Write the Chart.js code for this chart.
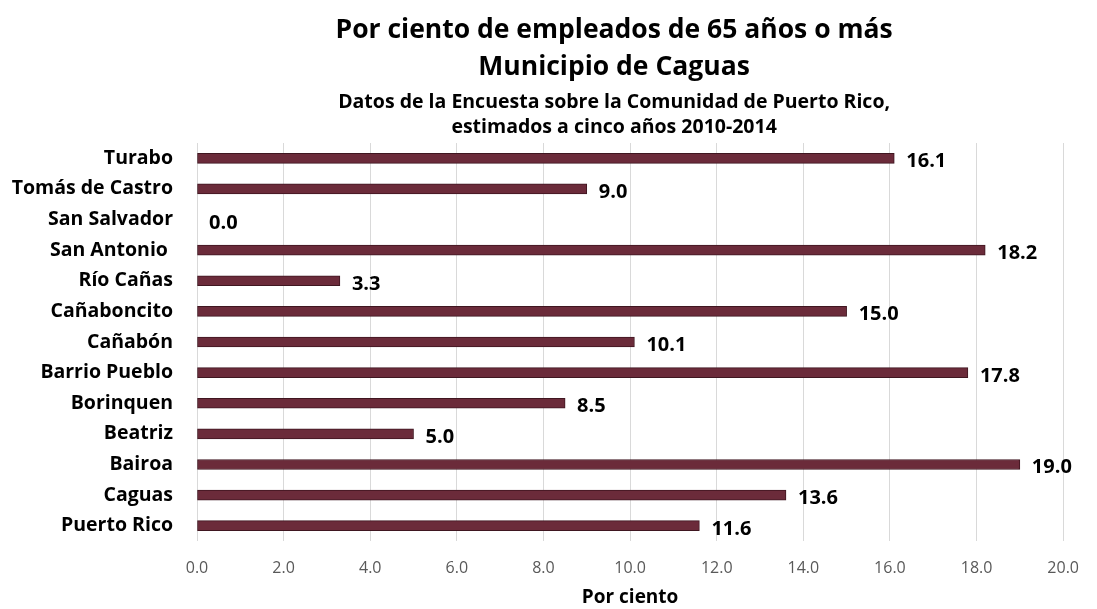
<!DOCTYPE html>
<html>
<head>
<meta charset="utf-8">
<script src="https://cdn.jsdelivr.net/npm/chart.js@4.4.1/dist/chart.umd.min.js"></script>
<style>
  html, body { margin: 0; padding: 0; background: #fff; }
  #wrap { width: 1097px; height: 609px; }
</style>
</head>
<body>
<div id="wrap"><canvas id="chart" width="1097" height="609"></canvas></div>
<script>
// data
const barrios = ['Turabo', 'Tomás de Castro', 'San Salvador', 'San Antonio ', 'Río Cañas', 'Cañaboncito',
    'Cañabón', 'Barrio Pueblo', 'Borinquen', 'Beatriz', 'Bairoa', 'Caguas', 'Puerto Rico'];
const porCiento = [16.1, 9.0, 0.0, 18.2, 3.3, 15.0, 10.1, 17.8, 8.5, 5.0, 19.0, 13.6, 11.6];
const tituloLineas = ['Por ciento de empleados de 65 años o más', 'Municipio de Caguas'];
const subtituloLineas = ['Datos de la Encuesta sobre la Comunidad de Puerto Rico,', 'estimados a cinco años 2010-2014'];

const FONT = '"Open Sans", sans-serif';

// titles, a little left of the plot centre as in the original
const titlePlugin = {
    id: 'titulos',
    afterDraw(chart) {
        const ctx = chart.ctx;
        const cx = (chart.chartArea.left + chart.chartArea.right) / 2 - 16;
        ctx.save();
        ctx.fillStyle = '#000';
        ctx.textAlign = 'center';
        ctx.textBaseline = 'alphabetic';
        ctx.font = 'bold 26.5px ' + FONT;
        ctx.fillText(tituloLineas[0], cx, 38);
        ctx.fillText(tituloLineas[1], cx, 75);
        ctx.font = 'bold 19.5px ' + FONT;
        ctx.fillText(subtituloLineas[0], cx, 108);
        ctx.fillText(subtituloLineas[1], cx, 133);
        ctx.restore();
    }
};

// value labels right of each bar
const labelPlugin = {
    id: 'etiquetas',
    afterDatasetsDraw(chart) {
        const ctx = chart.ctx;
        const meta = chart.getDatasetMeta(0);
        ctx.save();
        ctx.fillStyle = '#000';
        ctx.font = 'bold 20px ' + FONT;
        ctx.textAlign = 'left';
        ctx.textBaseline = 'alphabetic';
        meta.data.forEach((bar, i) => {
            ctx.fillText(porCiento[i].toFixed(1), bar.x + 12, bar.y + 9);
        });
        ctx.restore();
    }
};

new Chart(document.getElementById('chart').getContext('2d'), {
    type: 'bar',
    data: {
        labels: barrios,
        datasets: [{
            data: porCiento,
            backgroundColor: '#6b2b3a',
            borderColor: '#3f1620',
            borderWidth: 1,
            borderSkipped: false,
            barThickness: 10
        }]
    },
    options: {
        indexAxis: 'y',
        responsive: false,
        animation: false,
        layout: { padding: { top: 143, right: 31, bottom: 0, left: 0 } },
        plugins: {
            legend: { display: false },
            tooltip: { enabled: false }
        },
        scales: {
            x: {
                // fixed axis height so the plot bottom sits where the original has it
                afterFit(scale) { scale.height = 68; },
                min: 0,
                max: 20,
                ticks: {
                    stepSize: 2,
                    color: '#595959',
                    padding: 18,
                    font: { family: FONT, size: 16 },
                    callback: v => v.toFixed(1)
                },
                grid: { color: '#d9d9d9', drawTicks: false },
                border: { display: false },
                title: {
                    display: true,
                    text: 'Por ciento',
                    color: '#000',
                    font: { family: FONT, size: 19, weight: 'bold' },
                    padding: { top: 0, bottom: 0 }
                }
            },
            y: {
                // keep the plot left edge where the original has it
                afterFit(scale) { scale.width = 197; },
                ticks: {
                    color: '#000',
                    padding: 24,
                    font: { family: FONT, size: 19.5, weight: 'bold' }
                },
                grid: { display: false, drawTicks: false },
                border: { display: false }
            }
        }
    },
    plugins: [titlePlugin, labelPlugin]
});
</script>
</body>
</html>
